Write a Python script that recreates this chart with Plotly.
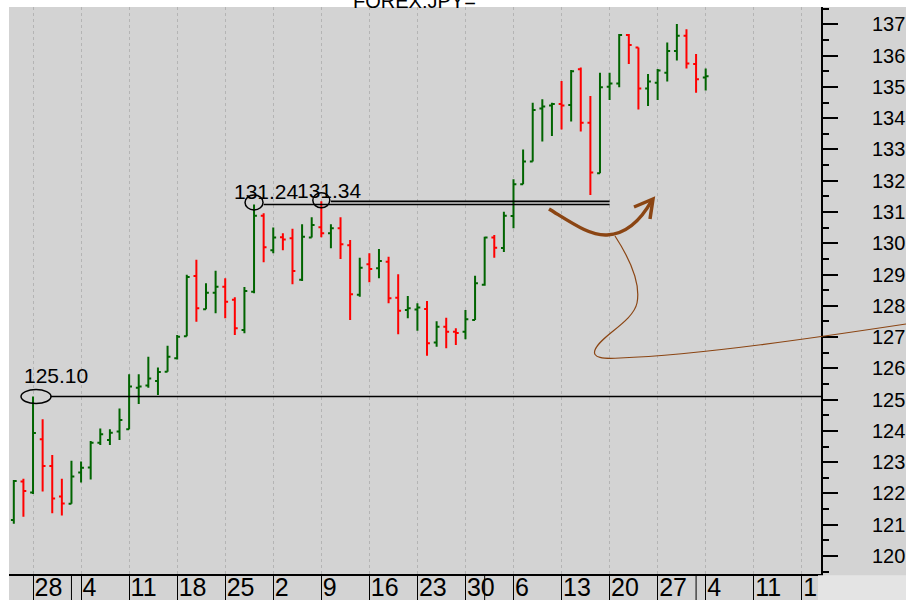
import plotly.graph_objects as go

# ---------------- data (USD/JPY daily bars) ----------------
dates = ["2022-03-24", "2022-03-25", "2022-03-28", "2022-03-29", "2022-03-30", "2022-03-31",
         "2022-04-01", "2022-04-04", "2022-04-05", "2022-04-06", "2022-04-07", "2022-04-08",
         "2022-04-11", "2022-04-12", "2022-04-13", "2022-04-14", "2022-04-15",
         "2022-04-18", "2022-04-19", "2022-04-20", "2022-04-21", "2022-04-22",
         "2022-04-25", "2022-04-26", "2022-04-27", "2022-04-28", "2022-04-29",
         "2022-05-02", "2022-05-03", "2022-05-04", "2022-05-05", "2022-05-06",
         "2022-05-09", "2022-05-10", "2022-05-11", "2022-05-12", "2022-05-13",
         "2022-05-16", "2022-05-17", "2022-05-18", "2022-05-19", "2022-05-20",
         "2022-05-23", "2022-05-24", "2022-05-25", "2022-05-26", "2022-05-27",
         "2022-05-30", "2022-05-31", "2022-06-01", "2022-06-02", "2022-06-03",
         "2022-06-06", "2022-06-07", "2022-06-08", "2022-06-09", "2022-06-10",
         "2022-06-13", "2022-06-14", "2022-06-15", "2022-06-16", "2022-06-17",
         "2022-06-20", "2022-06-21", "2022-06-22", "2022-06-23", "2022-06-24",
         "2022-06-27", "2022-06-28", "2022-06-29", "2022-06-30", "2022-07-01",
         "2022-07-04"]
opens = [121.15, 122.38, 122.03, 123.73, 122.88, 121.90,
         121.67, 122.67, 122.83, 123.62, 123.71, 123.98,
         124.05, 125.38, 125.45, 125.60, 125.89,
         126.32, 127.03, 128.95, 127.89, 128.42,
         128.61, 128.19, 127.23, 128.45, 130.88,
         129.78, 130.19, 130.16, 128.83, 130.18,
         130.51, 130.32, 130.48, 129.94, 128.35,
         129.33, 129.20, 129.41, 128.26, 127.87,
         127.88, 127.90, 126.83, 127.33, 127.17,
         127.17, 127.55, 128.67, 130.18, 129.85,
         130.87, 131.89, 132.61, 134.31, 134.40,
         134.45, 134.42, 135.56, 133.85, 132.24,
         135.00, 135.11, 136.66, 136.26, 134.95,
         135.13, 135.45, 136.15, 136.63, 135.73,
         135.30]
highs = [122.43, 122.47, 125.10, 124.37, 123.23, 122.47,
         123.05, 123.02, 123.68, 124.08, 124.05, 124.72,
         125.81, 125.81, 126.37, 126.03, 126.72,
         127.07, 128.99, 129.47, 128.72, 129.12,
         128.88, 128.27, 128.60, 131.24, 130.96,
         130.50, 130.32, 130.46, 130.61, 130.83,
         131.34, 130.61, 130.83, 130.10, 129.54,
         129.68, 129.82, 129.57, 129.01, 128.31,
         128.08, 128.15, 127.51, 127.62, 127.28,
         127.87, 128.96, 130.21, 130.26, 131.01,
         132.05, 133.00, 134.49, 134.60, 134.49,
         135.19, 135.54, 135.62, 134.71, 135.45,
         135.45, 136.69, 136.69, 136.26, 135.41,
         135.57, 136.42, 137.01, 136.84, 136.05,
         135.59]
lows = [121.03, 121.26, 121.98, 122.06, 121.37, 121.30,
        121.67, 122.35, 122.45, 123.55, 123.55, 123.71,
        124.05, 124.86, 125.38, 125.15, 125.89,
        126.28, 127.03, 127.49, 127.89, 127.76,
        127.60, 127.07, 127.12, 128.40, 129.39,
        129.68, 129.78, 128.69, 128.79, 130.18,
        130.19, 129.84, 129.50, 127.55, 128.29,
        128.75, 128.88, 128.08, 127.09, 127.60,
        127.20, 126.40, 126.69, 126.64, 126.75,
        126.93, 127.55, 128.64, 129.54, 129.72,
        130.48, 131.89, 132.61, 133.25, 133.43,
        133.64, 133.89, 133.57, 131.54, 132.24,
        134.58, 134.99, 135.73, 134.28, 134.39,
        134.58, 135.17, 135.84, 135.59, 134.81,
        134.88]
closes = [122.40, 122.08, 123.93, 122.88, 121.84, 121.68,
          122.54, 122.82, 123.62, 123.89, 123.94, 124.35,
          125.42, 125.42, 125.68, 125.88, 126.37,
          127.01, 128.92, 127.92, 128.42, 128.61,
          128.13, 127.28, 128.47, 130.88, 129.87,
          130.18, 130.12, 129.11, 130.21, 130.58,
          130.32, 130.48, 129.97, 128.37, 129.22,
          129.18, 129.43, 128.24, 127.84, 127.92,
          127.95, 126.80, 127.33, 127.17, 127.13,
          127.57, 128.72, 130.18, 129.86, 130.88,
          131.89, 132.61, 134.26, 134.37, 134.45,
          134.40, 135.50, 133.85, 132.26, 134.99,
          135.11, 136.66, 136.34, 134.95, 135.17,
          135.52, 136.15, 136.63, 135.75, 135.24,
          135.34]

# x-axis ticks (weekly, Mondays) and labels
tick_dates = ["2022-03-28", "2022-04-04", "2022-04-11", "2022-04-18", "2022-04-25",
              "2022-05-02", "2022-05-09", "2022-05-16", "2022-05-23", "2022-05-30",
              "2022-06-06", "2022-06-13", "2022-06-20", "2022-06-27", "2022-07-04",
              "2022-07-11", "2022-07-18"]
tick_labels = ["28", "4", "11", "18", "25", "2", "9", "16", "23", "30",
               "6", "13", "20", "27", "4", "11", "18"]
month_first_days = ["2022-04-01", "2022-06-01", "2022-07-01"]

# annotated levels
level_1 = {"date": "2022-03-28", "value": 125.10, "text": "125.10"}
level_2 = {"date": "2022-04-28", "value": 131.24, "text": "131.24"}
level_3 = {"date": "2022-05-09", "value": 131.34, "text": "131.34"}
level_line_end = "2022-06-20"

x_range = ["2022-03-23 12:00", "2022-07-20"]
y_range = [119.426, 137.553]

# ---------------- layout geometry ----------------
W, H = 906, 600
ML, MR, MT, MB = 9, 85, 7, 26
PW, PH = W - ML - MR, H - MT - MB
BG = "#d3d3d3"
BROWN = "#8b4513"


def px(x):
    return (x - ML) / PW


def py(y):
    return (H - MB - y) / PH


def paper_path(segments):
    out = []
    for cmd, pts in segments:
        coords = " ".join(f"{px(x):.5f},{py(y):.5f}" for x, y in pts)
        out.append(f"{cmd} {coords}")
    return " ".join(out)


fig = go.Figure()
fig.add_trace(go.Ohlc(
    x=dates, open=opens, high=highs, low=lows, close=closes,
    increasing=dict(line=dict(color="#006400", width=2)),
    decreasing=dict(line=dict(color="#ff0000", width=2)),
    tickwidth=0.3, showlegend=False, hoverinfo="skip",
))

shapes = []
# white strips at the top and left edge of the picture
shapes.append(dict(type="rect", xref="paper", yref="paper", x0=-0.1, x1=1.2, y0=1, y1=1.1,
                   fillcolor="white", line=dict(width=0), layer="below"))
shapes.append(dict(type="rect", xref="paper", yref="paper", x0=-0.1, x1=0, y0=-0.1, y1=1.1,
                   fillcolor="white", line=dict(width=0), layer="below"))
# lighter bottom-right corner (also trims the last date label)
shapes.append(dict(type="rect", xref="paper", yref="paper", x0=px(818), x1=1.2, y0=-0.1, y1=-0.002,
                   fillcolor="#e4e4e4", line=dict(width=0), layer="above"))
# month separators in the date strip
for d in month_first_days:
    shapes.append(dict(type="line", xref="x", yref="paper", x0=d, x1=d, y0=-MB / PH, y1=0,
                       line=dict(color="black", width=1)))

# level lines
shapes.append(dict(type="line", xref="x", yref="y", x0="2022-03-29 20:00", x1="2022-08-30",
                   y0=level_1["value"], y1=level_1["value"], line=dict(color="black", width=1.6)))
shapes.append(dict(type="line", xref="x", yref="y", x0="2022-04-29", x1=level_line_end,
                   y0=level_2["value"], y1=level_2["value"], line=dict(color="black", width=1.6)))
shapes.append(dict(type="line", xref="x", yref="y", x0="2022-05-10", x1=level_line_end,
                   y0=level_3["value"], y1=level_3["value"], line=dict(color="black", width=1.6)))

# ellipses round the marked highs
for lv, (a, b, c, d) in ((level_1, (-12, 18, -7, 7)), (level_2, (-9, 9, -5.5, 9.5)),
                         (level_3, (-8.5, 8.5, -6.5, 8.5))):
    shapes.append(dict(type="circle", xref="x", yref="y", xsizemode="pixel", ysizemode="pixel",
                       xanchor=lv["date"], yanchor=lv["value"], x0=a, x1=b, y0=c, y1=d,
                       line=dict(color="black", width=1.5)))

# hand drawn brown arrow and thin curve
thick = paper_path([("M", [(549, 209)]), ("C", [(572, 223), (590, 236), (607, 235)]),
                    ("C", [(626, 234), (641, 220), (652, 200)])])
head = paper_path([("M", [(634, 207)]), ("L", [(653, 199)]), ("L", [(650, 219)])])
thin = paper_path([("M", [(615, 236)]), ("C", [(628, 256), (641, 283), (637, 303)]),
                   ("C", [(633, 322), (600, 336), (595, 350)]),
                   ("C", [(592, 358), (603, 359), (620, 358)]),
                   ("C", [(700, 355), (820, 337), (906, 324)])])
shapes.append(dict(type="path", xref="paper", yref="paper", path=thick,
                   line=dict(color=BROWN, width=3.5)))
shapes.append(dict(type="path", xref="paper", yref="paper", path=head,
                   line=dict(color=BROWN, width=3.5)))
shapes.append(dict(type="path", xref="paper", yref="paper", path=thin,
                   line=dict(color=BROWN, width=1.2)))

font_main = "Liberation Sans, Arial, sans-serif"
annotations = []
for lv, (dx, dy) in ((level_1, (22.5, 21)), (level_2, (12, 13)), (level_3, (8, 10.5))):
    annotations.append(dict(x=lv["date"], y=lv["value"], xref="x", yref="y", text=lv["text"],
                            showarrow=False, xanchor="center", yanchor="middle",
                            xshift=dx, yshift=dy,
                            font=dict(family=font_main, size=21, color="black")))
annotations.append(dict(x=px(414), y=1, xref="paper", yref="paper", text="FOREX:JPY=",
                        showarrow=False, xanchor="center", yanchor="bottom", yshift=-7,
                        font=dict(family=font_main, size=20, color="black")))

fig.update_layout(
    width=W, height=H, autosize=False,
    margin=dict(l=ML, r=MR, t=MT, b=MB, pad=0, autoexpand=False),
    paper_bgcolor=BG, plot_bgcolor=BG,
    showlegend=False,
    shapes=shapes, annotations=annotations,
    xaxis=dict(
        type="date", range=x_range, automargin=False,
        rangebreaks=[dict(bounds=["sat", "mon"])],
        rangeslider=dict(visible=False),
        tickmode="array", tickvals=tick_dates, ticktext=tick_labels,
        ticks="outside", ticklen=26, tickwidth=1, tickcolor="black",
        ticklabelposition="outside right", ticklabelstandoff=-10,
        tickfont=dict(family="Liberation Sans, Arial", size=25, color="black"),
        showgrid=True, gridcolor="#b4b4b4", griddash="dot", gridwidth=1,
        showline=True, linecolor="black", linewidth=2,
        zeroline=False, fixedrange=True,
    ),
    yaxis=dict(
        side="right", range=y_range, automargin=False,
        tickmode="linear", tick0=0, dtick=1,
        ticks="outside", ticklen=15, tickwidth=2, tickcolor="black",
        minor=dict(dtick=0.5, tick0=0, ticks="outside", ticklen=6, tickwidth=2,
                   tickcolor="black", showgrid=False),
        ticklabelstandoff=30,
        tickfont=dict(family=font_main, size=20, color="black"),
        showgrid=False, showline=True, linecolor="black", linewidth=2,
        zeroline=False, fixedrange=True,
    ),
)

fig.write_html("out.html", config={"displayModeBar": False},
               post_script="document.body.style.margin='0';")
